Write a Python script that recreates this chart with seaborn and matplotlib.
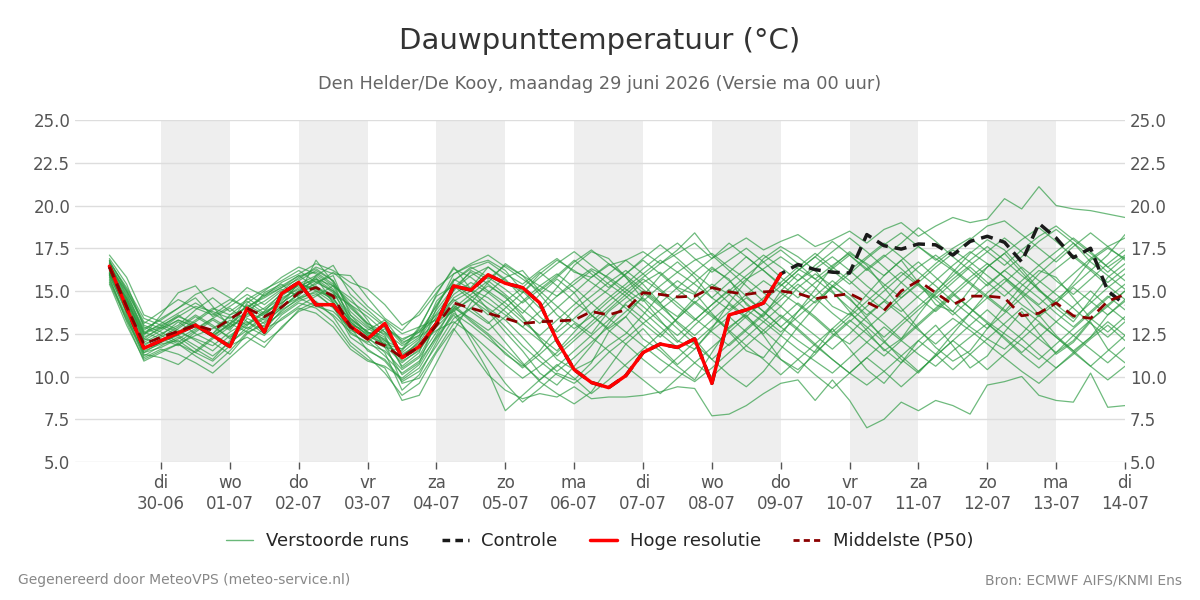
import seaborn as sns
import matplotlib.pyplot as plt
from matplotlib.lines import Line2D
import pandas as pd
import numpy as np

# 6-hourly steps, 29-06 06h .. 14-07 00h
tijden = pd.date_range('2026-06-29 06:00', periods=60, freq='6h')

tick_dagen = pd.date_range('2026-06-30', '2026-07-14', freq='D')
tick_labels = ['di\n30-06', 'wo\n01-07', 'do\n02-07', 'vr\n03-07', 'za\n04-07',
               'zo\n05-07', 'ma\n06-07', 'di\n07-07', 'wo\n08-07', 'do\n09-07',
               'vr\n10-07', 'za\n11-07', 'zo\n12-07', 'ma\n13-07', 'di\n14-07']
grijze_dagen = ['2026-06-30', '2026-07-02', '2026-07-04', '2026-07-06',
                '2026-07-08', '2026-07-10', '2026-07-12']

hoge_resolutie = [
    16.45, 14.0, 11.65, 12.1, 12.55, 13.0, 12.4, 11.74, 14.0, 12.6,
    14.85, 15.5, 14.2, 14.2, 12.95, 12.2, 13.1, 11.1, 11.75, 13.1,
    15.3, 15.05, 15.95, 15.45, 15.2, 14.3, 12.1, 10.4, 9.65, 9.35,
    10.05, 11.4, 11.9, 11.7, 12.2, 9.6, 13.6, 13.9, 14.3, 16.0]

controle = hoge_resolutie + [
    16.55, 16.25, 16.1, 16.05, 18.3, 17.65, 17.45, 17.75, 17.7, 17.1,
    17.9, 18.2, 17.85, 16.7, 18.95, 18.1, 16.95, 17.5, 15.0, 14.2]

p50 = [
    16.4, 14.1, 11.9, 12.3, 12.65, 13.0, 12.7, 13.35, 14.0, 13.5,
    14.05, 14.9, 15.2, 14.7, 12.9, 12.2, 11.8, 11.1, 11.75, 13.0,
    14.3, 14.0, 13.7, 13.4, 13.1, 13.2, 13.25, 13.3, 13.8, 13.6,
    13.9, 14.9, 14.8, 14.65, 14.7, 15.2, 14.95, 14.8, 14.95, 15.0,
    14.85, 14.55, 14.7, 14.85, 14.35, 13.85, 15.0, 15.6, 14.9, 14.2,
    14.7, 14.7, 14.6, 13.55, 13.7, 14.3, 13.55, 13.4, 14.4, 14.8]

verstoorde_runs = [
    [16.2, 14.5, 12.3, 12.8, 13.5, 13.1, 12.4, 13.0, 14.2, 13.6,
     14.5, 15.2, 15.8, 14.3, 12.5, 12.0, 12.8, 11.2, 12.0, 13.5,
     14.8, 15.5, 14.9, 15.8, 16.2, 15.0, 14.1, 13.2, 12.5, 13.8,
     14.6, 15.5, 16.1, 15.2, 14.8, 16.3, 15.7, 14.2, 13.5, 15.0,
     16.0, 15.2, 14.1, 13.6, 14.8, 15.9, 16.8, 15.5, 14.2, 13.8,
     15.1, 16.4, 17.2, 16.1, 15.0, 14.3, 15.5, 16.8, 17.5, 16.9],
    [16.8, 13.6, 11.2, 11.8, 12.3, 11.6, 11.0, 12.1, 13.4, 12.9,
     13.8, 14.6, 14.9, 14.0, 12.9, 11.5, 11.0, 9.8, 10.5, 12.2,
     13.6, 12.4, 11.0, 9.6, 8.5, 9.3, 10.2, 9.8, 10.8, 12.6,
     13.5, 12.2, 11.5, 10.6, 9.8, 11.4, 12.9, 13.6, 12.4, 11.0,
     10.2, 11.5, 12.8, 11.6, 10.4, 9.6, 10.8, 12.1, 13.0, 11.8,
     10.5, 11.2, 12.6, 13.8, 12.5, 11.3, 12.0, 13.2, 11.6, 10.8],
    [16.5, 14.8, 12.8, 13.3, 14.0, 14.6, 13.5, 14.1, 14.8, 14.2,
     15.0, 15.8, 16.3, 15.6, 14.0, 13.1, 12.6, 11.8, 12.4, 14.2,
     15.6, 16.3, 16.7, 16.0, 15.4, 16.2, 16.9, 16.1, 15.8, 16.5,
     16.8, 17.3, 16.6, 17.2, 17.8, 16.9, 17.5, 18.1, 17.4, 17.9,
     18.3, 17.6, 18.0, 18.5, 17.8, 18.6, 19.0, 18.2, 18.8, 19.3,
     19.0, 19.2, 20.4, 19.8, 21.1, 20.0, 19.8, 19.7, 19.5, 19.3],
    [15.8, 13.2, 10.9, 11.4, 11.9, 11.2, 10.6, 11.5, 12.6, 12.0,
     12.8, 13.9, 14.4, 13.5, 12.0, 11.2, 10.2, 8.9, 9.6, 11.4,
     12.8, 11.5, 10.1, 9.2, 8.7, 9.0, 8.8, 9.4, 8.7, 8.8,
     8.8, 8.9, 9.1, 9.4, 9.3, 7.7, 7.8, 8.3, 9.0, 9.6,
     9.8, 8.6, 9.8, 8.6, 7.0, 7.5, 8.5, 8.0, 8.6, 8.3,
     7.8, 9.5, 9.7, 10.0, 8.9, 8.6, 8.5, 10.2, 8.2, 8.3],
    [16.0, 14.2, 12.0, 12.5, 13.0, 13.9, 14.6, 13.8, 14.5, 15.1,
     15.6, 16.2, 15.5, 15.9, 13.6, 12.8, 12.3, 10.6, 11.4, 14.0,
     16.0, 16.5, 16.8, 16.2, 15.0, 14.0, 15.2, 16.5, 17.3, 16.9,
     15.8, 14.5, 13.3, 12.1, 11.6, 12.8, 14.3, 15.6, 16.9, 17.6,
     17.0, 16.2, 15.0, 13.8, 12.7, 11.5, 12.2, 13.6, 14.9, 16.1,
     17.2, 18.0, 17.4, 16.3, 15.1, 14.0, 13.2, 14.5, 15.8, 16.6],
    [17.1, 15.8, 13.6, 13.2, 12.7, 12.1, 11.5, 12.4, 13.1, 13.8,
     14.3, 15.0, 15.4, 16.1, 15.2, 14.1, 13.3, 12.5, 12.9, 13.3,
     13.8, 14.6, 15.3, 14.7, 13.5, 12.2, 11.0, 10.4, 10.9, 11.8,
     12.5, 13.6, 14.8, 15.6, 14.9, 13.7, 12.6, 11.5, 11.1, 12.4,
     13.8, 15.1, 16.4, 17.3, 16.5, 15.2, 14.0, 12.8, 11.7, 10.9,
     11.5, 12.8, 14.1, 15.3, 16.2, 15.8, 14.6, 13.4, 12.6, 13.5],
    [15.5, 13.3, 11.4, 11.7, 12.2, 12.8, 13.4, 14.0, 13.2, 12.5,
     13.6, 14.3, 14.0, 13.2, 11.8, 11.0, 10.5, 8.6, 8.9, 10.8,
     12.7, 14.3, 15.5, 16.6, 15.9, 15.3, 14.7, 15.6, 16.3, 15.8,
     15.1, 14.4, 15.3, 16.1, 16.8, 17.2, 16.4, 15.7, 16.3, 17.0,
     16.3, 15.7, 16.5, 17.2, 16.6, 15.9, 16.8, 17.6, 16.9, 16.2,
     15.4, 14.6, 13.8, 14.9, 16.0, 16.9, 17.8, 16.7, 15.9, 15.1],
    [16.6, 14.9, 12.6, 12.2, 11.8, 12.6, 13.3, 12.7, 13.9, 14.4,
     15.1, 14.7, 15.9, 16.5, 14.8, 13.9, 13.0, 11.9, 12.6, 13.4,
     14.1, 13.2, 12.4, 11.3, 10.6, 11.5, 12.8, 13.9, 14.7, 15.5,
     16.2, 15.4, 14.3, 13.1, 12.2, 11.0, 10.1, 9.4, 10.3, 11.6,
     12.9, 14.1, 15.3, 14.6, 13.4, 12.1, 11.0, 10.2, 11.3, 12.5,
     13.7, 14.9, 15.7, 14.8, 13.6, 12.4, 11.5, 12.3, 13.6, 14.4],
    [16.3, 14.0, 11.8, 12.4, 13.2, 12.5, 12.0, 11.3, 12.5, 13.2,
     14.0, 14.8, 16.8, 15.5, 13.2, 12.4, 11.8, 10.8, 11.6, 12.9,
     13.9, 14.5, 13.8, 12.6, 11.5, 10.2, 9.5, 10.6, 11.8, 13.1,
     14.3, 15.0, 14.2, 13.5, 14.6, 15.4, 14.8, 13.9, 13.2, 14.1,
     15.2, 16.0, 15.3, 14.5, 13.6, 14.4, 15.5, 16.4, 17.1, 16.3,
     15.5, 14.7, 13.9, 13.0, 12.2, 11.4, 12.1, 13.3, 14.2, 15.0],
    [15.9, 13.8, 11.6, 12.0, 12.4, 13.0, 12.5, 13.3, 12.8, 13.5,
     14.2, 15.5, 15.0, 14.6, 13.0, 12.7, 13.3, 12.0, 12.4, 13.9,
     15.2, 16.1, 15.4, 14.6, 13.7, 14.8, 15.7, 14.9, 13.6, 12.8,
     13.5, 14.7, 15.9, 16.7, 15.8, 14.6, 13.9, 14.8, 15.6, 14.9,
     14.2, 13.4, 12.5, 11.9, 12.8, 13.7, 14.6, 15.4, 14.7, 13.8,
     12.9, 12.2, 11.6, 12.5, 13.6, 14.5, 15.3, 16.2, 17.1, 18.3],
    [16.4, 15.0, 13.1, 13.8, 14.5, 14.0, 13.6, 14.3, 15.2, 14.7,
     15.5, 16.0, 16.6, 16.2, 15.5, 15.1, 14.2, 13.0, 13.6, 14.9,
     16.3, 15.8, 15.0, 14.3, 13.4, 12.3, 11.5, 12.6, 13.7, 14.6,
     15.4, 16.3, 17.1, 17.8, 16.9, 16.1, 16.8, 17.5, 16.7, 15.8,
     15.0, 14.3, 15.2, 16.0, 16.9, 17.7, 18.4, 17.6, 16.8, 17.5,
     18.1, 17.3, 16.5, 17.4, 18.2, 18.8, 18.0, 17.2, 16.4, 17.1],
    [16.1, 13.9, 11.5, 11.9, 12.1, 11.4, 10.9, 11.8, 12.3, 11.7,
     12.9, 13.8, 14.2, 13.6, 12.6, 11.9, 11.5, 10.4, 11.1, 12.6,
     14.0, 13.4, 12.7, 13.5, 14.4, 15.3, 16.0, 15.2, 14.3, 13.4,
     12.6, 11.8, 11.0, 10.3, 9.7, 10.5, 11.4, 12.3, 13.2, 12.4,
     11.6, 10.9, 10.2, 11.1, 12.0, 12.9, 12.1, 11.3, 10.6, 11.5,
     12.3, 13.1, 12.2, 11.3, 10.5, 11.4, 12.4, 11.6, 10.8, 11.7],
    [16.7, 15.2, 13.4, 13.0, 12.6, 13.2, 13.9, 14.5, 14.0, 14.8,
     15.3, 15.9, 15.2, 14.8, 14.2, 13.5, 12.6, 11.4, 12.2, 13.7,
     15.0, 16.2, 15.7, 16.5, 15.9, 14.8, 13.6, 12.8, 13.5, 14.4,
     15.2, 16.0, 16.8, 16.1, 15.4, 14.6, 15.5, 16.3, 17.1, 16.4,
     15.6, 16.3, 17.0, 16.2, 15.3, 14.5, 13.8, 14.7, 15.6, 16.5,
     17.3, 16.6, 15.8, 15.0, 14.2, 15.1, 16.0, 16.9, 17.6, 18.1],
    [15.7, 13.5, 11.3, 11.1, 10.7, 11.5, 12.3, 13.1, 12.6, 13.0,
     13.7, 14.4, 14.8, 14.1, 12.3, 11.6, 10.9, 9.7, 10.3, 11.8,
     13.4, 14.0, 13.2, 12.0, 10.8, 9.7, 9.0, 8.4, 9.1, 10.5,
     11.9, 12.8, 11.7, 10.7, 11.6, 12.7, 13.5, 12.6, 11.8, 11.0,
     10.4, 11.3, 12.4, 13.3, 12.5, 11.6, 10.8, 11.7, 12.6, 13.4,
     12.7, 11.9, 11.1, 10.3, 9.6, 10.5, 11.3, 12.2, 13.0, 12.1],
    [16.0, 14.6, 12.5, 13.1, 13.7, 14.3, 13.7, 13.1, 14.6, 13.9,
     14.6, 15.1, 15.6, 14.9, 13.4, 12.6, 12.1, 11.0, 11.8, 13.2,
     14.6, 15.2, 16.4, 15.6, 14.9, 16.0, 16.8, 16.2, 15.5, 14.8,
     14.0, 13.1, 12.3, 13.4, 14.4, 13.6, 12.8, 13.7, 14.6, 15.5,
     16.4, 17.2, 16.4, 15.6, 14.7, 13.9, 14.8, 15.7, 16.6, 17.4,
     16.7, 15.9, 15.1, 14.2, 13.5, 14.3, 15.2, 14.4, 13.6, 14.5],
    [16.9, 15.4, 12.9, 12.4, 11.9, 11.4, 12.2, 12.9, 13.6, 14.9,
     15.4, 14.6, 14.1, 13.8, 12.8, 12.2, 11.7, 11.5, 12.8, 14.8,
     16.4, 15.1, 13.9, 12.9, 11.8, 10.9, 10.1, 9.6, 10.4, 11.4,
     12.2, 13.1, 13.9, 14.7, 15.5, 16.4, 15.6, 14.7, 13.8, 12.9,
     12.1, 11.4, 12.3, 13.2, 14.1, 15.0, 15.9, 16.7, 15.8, 14.9,
     14.0, 13.2, 12.5, 11.8, 11.0, 11.9, 12.8, 13.7, 14.6, 15.4],
    [16.2, 14.3, 12.1, 12.7, 13.3, 12.9, 12.3, 11.9, 12.9, 12.4,
     13.4, 14.1, 14.7, 15.3, 14.6, 13.3, 11.7, 10.1, 10.8, 13.3,
     14.4, 15.0, 14.3, 13.6, 12.9, 13.8, 14.7, 15.4, 16.2, 15.4,
     14.7, 13.8, 12.9, 12.0, 13.0, 13.9, 14.8, 15.7, 14.9, 14.1,
     13.2, 12.4, 11.6, 12.5, 13.5, 14.4, 13.6, 12.7, 11.9, 12.8,
     13.7, 14.6, 15.5, 16.4, 15.6, 14.8, 14.0, 13.1, 12.3, 13.2],
    [15.4, 13.0, 11.0, 11.5, 11.9, 12.4, 12.8, 13.5, 13.0, 13.8,
     14.9, 15.6, 16.2, 15.6, 13.8, 12.9, 12.5, 11.3, 11.9, 12.7,
     13.2, 12.5, 11.6, 10.7, 9.9, 10.6, 11.4, 12.3, 13.2, 14.1,
     15.0, 15.8, 16.6, 17.4, 18.4, 17.1, 16.2, 15.3, 14.4, 13.5,
     12.7, 11.8, 11.0, 10.2, 11.1, 12.0, 13.0, 13.9, 14.8, 15.7,
     16.5, 17.3, 18.1, 17.3, 16.5, 15.6, 14.8, 15.7, 16.6, 17.4],
    [16.5, 14.4, 12.4, 13.6, 14.9, 15.3, 14.1, 12.9, 13.5, 14.0,
     14.8, 15.3, 15.7, 15.0, 13.1, 12.5, 11.9, 11.1, 12.1, 14.4,
     15.4, 14.7, 14.0, 13.3, 12.3, 11.2, 10.3, 11.1, 12.0, 12.9,
     13.8, 14.6, 13.7, 12.8, 11.9, 11.0, 11.9, 12.8, 13.7, 14.7,
     15.6, 16.5, 17.3, 18.1, 17.3, 16.4, 15.5, 14.6, 13.8, 14.7,
     15.6, 16.4, 17.2, 18.0, 18.7, 17.9, 17.0, 16.2, 15.3, 14.5],
    [16.8, 15.0, 13.0, 12.6, 12.0, 12.7, 13.4, 12.8, 14.3, 15.0,
     15.8, 16.4, 16.0, 15.3, 14.4, 13.7, 12.9, 12.1, 12.7, 13.6,
     14.5, 13.8, 13.1, 14.0, 14.9, 15.8, 16.6, 17.3, 16.5, 15.7,
     14.9, 14.1, 13.2, 12.4, 13.3, 14.2, 15.1, 14.3, 13.4, 12.6,
     13.5, 14.4, 15.3, 16.2, 17.0, 17.8, 17.0, 16.1, 15.3, 14.4,
     13.6, 12.8, 13.7, 14.6, 15.5, 16.3, 17.1, 16.3, 15.5, 16.3],
    [16.1, 14.1, 11.9, 12.3, 12.9, 13.6, 13.0, 12.2, 13.7, 13.1,
     14.0, 14.9, 15.3, 14.4, 12.7, 12.3, 11.4, 9.2, 10.1, 12.0,
     13.9, 12.1, 10.3, 8.0, 8.9, 9.8, 10.7, 9.9, 9.0, 9.8,
     10.7, 11.6, 12.5, 13.4, 14.3, 13.5, 12.7, 11.8, 11.0, 10.1,
     11.0, 11.9, 12.8, 13.7, 12.9, 12.0, 11.2, 10.3, 11.2, 12.1,
     13.0, 13.9, 13.0, 12.2, 11.3, 10.5, 11.4, 12.3, 13.2, 12.4],
    [16.6, 14.7, 12.7, 13.4, 14.0, 14.8, 15.2, 14.6, 14.0, 14.7,
     15.2, 15.7, 16.4, 16.0, 15.9, 14.6, 13.4, 12.7, 13.8, 15.2,
     16.0, 16.6, 17.1, 16.4, 15.7, 15.0, 15.8, 16.7, 17.4, 16.6,
     15.9, 15.1, 14.3, 15.2, 16.1, 16.9, 17.8, 17.0, 16.2, 15.4,
     14.6, 15.5, 16.3, 17.1, 16.3, 15.4, 14.6, 15.5, 16.4, 17.2,
     18.0, 18.8, 19.1, 18.3, 17.5, 16.7, 17.6, 18.4, 17.6, 16.8],
    [15.6, 13.4, 11.1, 11.6, 11.3, 10.8, 10.2, 11.1, 12.0, 12.8,
     13.3, 14.0, 13.7, 12.9, 11.6, 10.9, 10.6, 9.9, 10.7, 12.4,
     14.2, 13.3, 12.5, 11.6, 10.7, 9.8, 10.6, 11.5, 12.4, 13.3,
     14.2, 13.4, 12.5, 11.7, 10.8, 10.0, 10.9, 11.8, 12.7, 13.6,
     12.8, 11.9, 11.0, 10.2, 9.5, 10.3, 11.2, 12.1, 11.3, 10.4,
     11.3, 12.2, 13.1, 14.0, 13.2, 12.3, 11.5, 10.6, 9.8, 10.6],
    [16.4, 14.5, 12.2, 12.0, 12.6, 13.3, 14.0, 13.6, 14.4, 13.7,
     14.4, 15.4, 15.1, 14.5, 13.3, 12.6, 12.2, 10.9, 11.5, 13.0,
     15.1, 15.9, 16.4, 15.7, 14.6, 13.5, 12.6, 13.4, 14.3, 15.1,
     16.0, 16.8, 16.0, 15.1, 14.3, 15.2, 16.1, 17.0, 16.2, 15.3,
     16.2, 17.0, 16.2, 15.4, 16.3, 17.1, 16.3, 15.4, 14.6, 15.5,
     16.4, 15.5, 14.7, 15.6, 16.5, 17.3, 18.1, 17.3, 16.4, 15.6],
    [16.0, 13.9, 11.7, 12.1, 12.6, 12.2, 11.8, 12.6, 13.2, 12.7,
     13.9, 14.5, 15.0, 14.3, 12.9, 12.1, 11.2, 10.2, 10.9, 12.3,
     13.7, 13.0, 12.2, 11.4, 10.5, 11.3, 12.2, 13.1, 12.3, 11.5,
     10.6, 9.8, 9.0, 9.9, 10.8, 11.7, 12.6, 13.5, 12.7, 11.8,
     11.0, 10.1, 9.3, 10.2, 11.1, 10.3, 9.4, 10.3, 11.2, 12.1,
     11.3, 10.4, 11.3, 12.2, 13.1, 12.3, 11.4, 10.6, 11.5, 12.4],
    [16.3, 14.3, 12.2, 12.9, 13.6, 12.9, 12.4, 13.1, 13.8, 13.3,
     14.1, 14.8, 15.5, 15.0, 14.1, 13.0, 12.1, 11.6, 12.3, 13.1,
     14.0, 14.8, 15.6, 14.8, 13.9, 13.1, 14.0, 14.9, 15.8, 16.6,
     15.8, 14.9, 14.1, 13.2, 12.4, 13.3, 14.2, 13.4, 12.5, 13.4,
     14.3, 13.5, 12.6, 13.5, 14.4, 15.3, 16.1, 15.3, 14.5, 13.6,
     14.5, 15.4, 16.2, 15.4, 14.6, 13.7, 12.9, 13.8, 14.7, 13.9],
    [16.0, 14.4, 12.5, 12.9, 12.4, 11.8, 11.2, 12.0, 12.7, 13.4,
     14.1, 14.6, 15.2, 14.6, 13.2, 12.4, 11.9, 11.6, 12.9, 14.7,
     15.3, 14.5, 13.6, 14.4, 15.2, 16.1, 15.3, 14.4, 13.6, 12.7,
     11.9, 11.0, 10.2, 11.1, 12.0, 12.9, 13.8, 14.6, 13.8, 12.9,
     13.8, 14.7, 15.6, 14.8, 13.9, 13.1, 12.2, 13.1, 14.0, 14.9,
     15.8, 16.6, 15.8, 14.9, 14.1, 13.2, 12.4, 13.3, 14.1, 15.0],
    [16.5, 14.6, 12.6, 13.0, 13.5, 14.1, 13.8, 13.4, 14.1, 14.6,
     15.2, 15.9, 16.1, 15.4, 14.2, 13.1, 12.4, 10.5, 11.2, 13.0,
     15.6, 16.4, 15.8, 15.1, 14.3, 15.1, 15.9, 16.8, 16.0, 15.2,
     16.0, 16.9, 17.7, 16.9, 16.0, 15.2, 14.3, 13.5, 14.4, 15.3,
     16.2, 17.0, 17.9, 17.1, 16.2, 17.0, 17.8, 18.7, 17.9, 17.0,
     16.2, 15.3, 16.2, 17.0, 17.9, 18.6, 17.8, 17.0, 16.1, 17.0],
    [15.9, 13.7, 11.4, 12.0, 12.8, 13.5, 12.9, 12.3, 13.0, 13.7,
     14.3, 15.0, 15.7, 15.3, 13.4, 12.6, 12.0, 9.6, 9.9, 11.5,
     13.1, 14.0, 14.9, 14.1, 13.2, 12.4, 13.3, 14.2, 15.1, 16.0,
     16.8, 16.0, 15.1, 14.3, 13.4, 12.6, 11.8, 12.7, 13.6, 14.5,
     15.4, 14.6, 13.7, 12.9, 12.0, 11.2, 12.1, 13.0, 13.9, 14.8,
     14.0, 13.1, 12.3, 11.4, 12.3, 13.2, 14.1, 15.0, 14.1, 13.3],
    [16.7, 15.1, 13.2, 12.8, 13.3, 12.9, 12.5, 13.6, 14.0, 13.5,
     14.7, 15.4, 15.9, 15.1, 13.6, 12.5, 12.9, 12.2, 12.6, 14.1,
     15.7, 15.1, 14.6, 13.8, 12.9, 12.1, 11.2, 12.1, 13.0, 13.9,
     14.8, 15.7, 15.0, 14.1, 13.3, 14.2, 15.0, 15.9, 16.7, 17.4,
     16.6, 15.7, 14.9, 14.0, 13.2, 12.3, 13.2, 14.1, 15.0, 15.9,
     16.8, 17.6, 16.8, 15.9, 15.1, 14.2, 13.4, 14.3, 15.2, 16.0],
]

for run in verstoorde_runs:
    assert len(run) == len(tijden)

runs_df = pd.DataFrame({
    'tijd': np.tile(tijden, len(verstoorde_runs)),
    'waarde': np.concatenate(verstoorde_runs),
    'run': np.repeat(np.arange(len(verstoorde_runs)), len(tijden)),
})

sns.set_theme(style='white')
plt.rcParams['font.family'] = ['DejaVu Sans']

fig = plt.figure(figsize=(12, 6), dpi=100)
ax = fig.add_axes([0.0625, 0.23, 0.875, 0.57])

# grijze banden om de andere dag
for d in grijze_dagen:
    start = pd.Timestamp(d)
    ax.axvspan(start, start + pd.Timedelta(days=1), color='#eeeeee', lw=0, zorder=0)

groen = '#2a9a40'
sns.lineplot(data=runs_df, x='tijd', y='waarde', units='run', estimator=None,
             color=groen, lw=0.9, alpha=0.68, ax=ax, legend=False, zorder=2)
sns.lineplot(x=tijden, y=controle, color='#1a1a1a', lw=2.5, ax=ax, zorder=3)
ax.lines[-1].set_dashes([3.5, 2])
sns.lineplot(x=tijden[:len(hoge_resolutie)], y=hoge_resolutie, color='#ff0000',
             lw=2.5, ax=ax, zorder=4)
sns.lineplot(x=tijden, y=p50, color='#8b0000', lw=2, ax=ax, zorder=5)
ax.lines[-1].set_dashes([4, 2.5])

ax.set_xlim(pd.Timestamp('2026-06-28 18:00'), pd.Timestamp('2026-07-14 00:00'))
ax.set_ylim(5, 25)
yt = np.arange(5, 25.1, 2.5)
ax.set_yticks(yt)
ax.set_yticklabels([f'{v:.1f}' for v in yt])
ax.set_xticks(tick_dagen)
ax.set_xticklabels(tick_labels)
ax.set_xlabel('')
ax.set_ylabel('')
ax.grid(axis='y', color='#dddddd', lw=1)
ax.set_axisbelow(True)
for s in ax.spines.values():
    s.set_visible(False)
ax.tick_params(axis='x', colors='#555555', labelsize=12, length=5, width=1,
               direction='out', bottom=True)
ax.tick_params(axis='y', colors='#555555', labelsize=12, length=0,
               labelright=True, right=False)

handles = [
    Line2D([], [], color=groen, lw=1, alpha=0.7),
    Line2D([], [], color='#1a1a1a', lw=2.5, dashes=[2.2, 1.5]),
    Line2D([], [], color='#ff0000', lw=2.5),
    Line2D([], [], color='#8b0000', lw=2, dashes=[2.2, 1.5]),
]
labels = ['Verstoorde runs', 'Controle', 'Hoge resolutie', 'Middelste (P50)']
fig.legend(handles, labels, loc='center', bbox_to_anchor=(0.5, 0.098), ncol=4,
           frameon=False, fontsize=13, handlelength=1.5, handletextpad=0.7,
           columnspacing=1.8)

fig.text(0.5, 0.931, 'Dauwpunttemperatuur (°C)', ha='center', va='center',
         fontsize=21, color='#333333')
fig.text(0.5, 0.86, 'Den Helder/De Kooy, maandag 29 juni 2026 (Versie ma 00 uur)',
         ha='center', va='center', fontsize=12.8, color='#666666')
fig.text(0.015, 0.033, 'Gegenereerd door MeteoVPS (meteo-service.nl)', ha='left',
         va='center', fontsize=10, color='#888888')
fig.text(0.985, 0.033, 'Bron: ECMWF AIFS/KNMI Ens', ha='right', va='center',
         fontsize=10, color='#888888')

fig.savefig('out.png', dpi=100)
